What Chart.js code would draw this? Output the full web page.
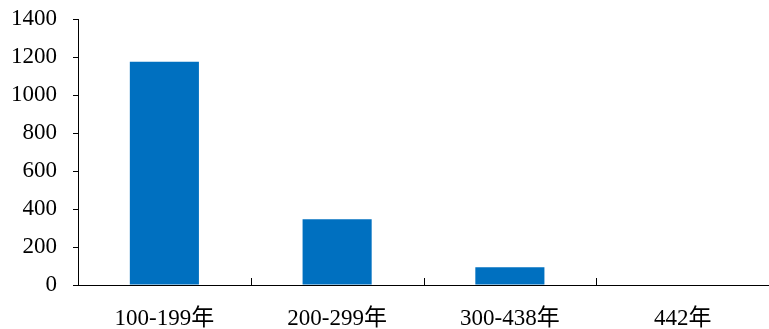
<!DOCTYPE html>
<html>
<head>
<meta charset="utf-8">
<script src="https://cdn.jsdelivr.net/npm/chart.js@4.4.1/dist/chart.umd.min.js"></script>
<style>
  html, body { margin: 0; padding: 0; background: #ffffff; }
  #wrap { width: 769px; height: 329px; position: relative; }
</style>
</head>
<body>
<div id="wrap"><canvas id="c"></canvas></div>
<script>
// Age groups and counts
const categories = ['100-199年', '200-299年', '300-438年', '442年'];
const counts = [1175, 346, 94, 3];
const yTicks = [0, 200, 400, 600, 800, 1000, 1200, 1400];

const FONT = "'Liberation Serif', 'Times New Roman', 'Noto Sans CJK SC', serif";

// Short upward tick marks on the category axis at the boundaries between groups
const categoryTicks = {
  id: 'categoryTicks',
  afterDraw(chart) {
    const x = chart.scales.x;
    const ctx = chart.ctx;
    const bottom = chart.chartArea.bottom;
    ctx.save();
    ctx.strokeStyle = '#000000';
    ctx.lineWidth = 1;
    for (let i = 1; i < categories.length; i++) {
      const px = Math.round((x.getPixelForValue(i - 1) + x.getPixelForValue(i)) / 2) + 0.5;
      ctx.beginPath();
      ctx.moveTo(px, bottom);
      ctx.lineTo(px, bottom - 7);
      ctx.stroke();
    }
    ctx.restore();
  }
};

new Chart(document.getElementById('c'), {
  type: 'bar',
  data: {
    labels: categories,
    datasets: [{
      data: counts,
      backgroundColor: '#0070C0',
      borderWidth: 0,
      categoryPercentage: 0.8,
      barPercentage: 0.5
    }]
  },
  options: {
    responsive: true,
    maintainAspectRatio: false,
    animation: false,
    layout: { padding: { top: 19, right: 0, left: 0, bottom: 0 } },
    plugins: { legend: { display: false }, tooltip: { enabled: false } },
    scales: {
      x: {
        offset: true,
        grid: { display: false },
        border: { display: true, color: '#000000', width: 1 },
        ticks: {
          color: '#000000',
          font: { family: FONT, size: 23 },
          padding: 12,
          maxRotation: 0
        },
        afterFit(scale) {
          scale.height = 44;
          scale.paddingLeft = 0;
          scale.paddingRight = 0;
        }
      },
      y: {
        min: 0,
        max: 1400,
        afterBuildTicks(scale) { scale.ticks = yTicks.map(v => ({ value: v })); },
        grid: {
          display: true,
          drawOnChartArea: false,
          drawTicks: true,
          tickLength: 5,
          color: '#000000'
        },
        border: { display: true, color: '#000000', width: 1 },
        ticks: {
          color: '#000000',
          font: { family: FONT, size: 23 },
          padding: 16,
          callback: (v) => String(v)
        },
        afterFit(scale) {
          scale.width = 78;
          scale.paddingTop = 0;
          scale.paddingBottom = 0;
        }
      }
    }
  },
  plugins: [categoryTicks]
});
</script>
</body>
</html>
